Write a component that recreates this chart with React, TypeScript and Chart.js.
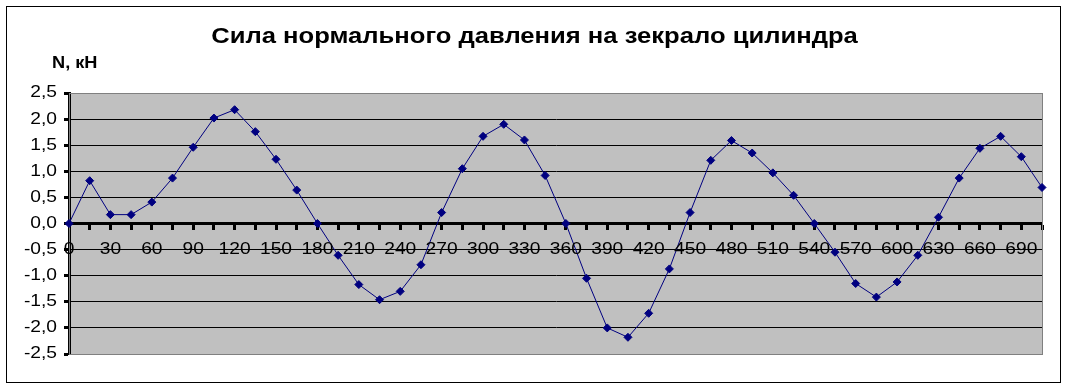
import React, { useEffect, useRef } from "react";
import { Chart, registerables } from "chart.js";

Chart.register(...registerables);

// Crank angle, degrees (every 15°)
const angles: number[] = [
  0, 15, 30, 45, 60, 75, 90, 105, 120, 135, 150, 165,
  180, 195, 210, 225, 240, 255, 270, 285, 300, 315, 330, 345,
  360, 375, 390, 405, 420, 435, 450, 465, 480, 495, 510, 525,
  540, 555, 570, 585, 600, 615, 630, 645, 660, 675, 690, 705,
];

// Normal force on the cylinder wall, kN
const normalForce: number[] = [
  0, 0.82, 0.17, 0.17, 0.41, 0.87, 1.46, 2.02, 2.18, 1.76, 1.23, 0.64,
  0, -0.61, -1.17, -1.46, -1.30, -0.79, 0.21, 1.05, 1.67, 1.90, 1.60, 0.92,
  0, -1.05, -2.0, -2.18, -1.72, -0.87, 0.21, 1.21, 1.59, 1.35, 0.97, 0.54,
  0, -0.55, -1.15, -1.41, -1.12, -0.61, 0.12, 0.87, 1.44, 1.67, 1.28, 0.69,
];

// Labelled angle ticks (every 30°) and value ticks
const angleLabels: number[] = [
  0, 30, 60, 90, 120, 150, 180, 210, 240, 270, 300, 330,
  360, 390, 420, 450, 480, 510, 540, 570, 600, 630, 660, 690,
];
const forceTicks: number[] = [2.5, 2.0, 1.5, 1.0, 0.5, 0, -0.5, -1.0, -1.5, -2.0, -2.5];

const titleText = "Сила нормального давления на зекрало цилиндра";
const yAxisCaption = "N, кН";

const FONT = "'Liberation Sans', Arial, sans-serif";
const LABEL_STRETCH = 1.2;

const fmt = (v: number) => v.toFixed(1).replace(".", ",");

const plotBackground = {
  id: "plotBackground",
  beforeDraw(chart: Chart) {
    const { ctx, chartArea } = chart;
    ctx.save();
    ctx.fillStyle = "#c0c0c0";
    ctx.fillRect(chartArea.left, chartArea.top, chartArea.right - chartArea.left, chartArea.bottom - chartArea.top);
    ctx.restore();
  },
  beforeDatasetsDraw(chart: Chart) {
    const { ctx, chartArea } = chart;
    ctx.save();
    ctx.strokeStyle = "#808080";
    ctx.lineWidth = 1;
    ctx.strokeRect(chartArea.left + 0.5, chartArea.top + 0.5, chartArea.right - chartArea.left, chartArea.bottom - chartArea.top);
    ctx.restore();
  },
};

// Tick labels drawn with a slightly wide typeface look
const wideTickLabels = {
  id: "wideTickLabels",
  afterDraw(chart: Chart) {
    const { ctx } = chart;
    const xs = chart.scales.x;
    const ys = chart.scales.y;
    ctx.save();
    ctx.fillStyle = "#000";
    ctx.font = `16px ${FONT}`;
    ctx.textBaseline = "middle";

    const axisY = ys.getPixelForValue(0);
    ctx.textAlign = "center";
    angleLabels.forEach((a) => {
      ctx.save();
      ctx.translate(xs.getPixelForValue(a), axisY + 26);
      ctx.scale(LABEL_STRETCH, 1);
      ctx.fillText(String(a), 0, 0);
      ctx.restore();
    });

    ctx.textAlign = "right";
    forceTicks.forEach((v) => {
      ctx.save();
      ctx.translate(ys.left + ys.width - 12, ys.getPixelForValue(v));
      ctx.scale(LABEL_STRETCH, 1);
      ctx.fillText(fmt(v), 0, 0);
      ctx.restore();
    });
    ctx.restore();
  },
};

export default function App() {
  const canvasRef = useRef<HTMLCanvasElement | null>(null);

  useEffect(() => {
    if (!canvasRef.current) return;
    const chart = new Chart(canvasRef.current, {
      type: "line",
      data: {
        datasets: [
          {
            data: angles.map((a, i) => ({ x: a, y: normalForce[i] })),
            borderColor: "#000080",
            borderWidth: 1,
            pointStyle: "rectRot",
            pointRadius: 4,
            pointBackgroundColor: "#000080",
            pointBorderColor: "#000080",
            pointBorderWidth: 1,
            tension: 0,
            clip: false as any,
          },
        ],
      },
      options: {
        animation: false,
        responsive: false,
        maintainAspectRatio: false,
        layout: { padding: { top: 93, left: 0, right: 25, bottom: 35 } },
        plugins: {
          legend: { display: false },
          title: { display: false },
          tooltip: { enabled: false },
        },
        scales: {
          x: {
            type: "linear",
            position: { y: 0 } as any,
            min: 0,
            max: 705,
            border: { color: "#000", width: 3 },
            grid: {
              drawOnChartArea: false,
              drawTicks: true,
              tickLength: 5,
              tickWidth: 3,
              tickColor: "#000",
            },
            ticks: {
              stepSize: 15,
              autoSkip: false,
              display: false,
            },
          },
          y: {
            min: -2.5,
            max: 2.5,
            border: { color: "#000", width: 3 },
            grid: {
              color: (ctx: any) =>
                ctx.tick && Math.abs(Math.abs(ctx.tick.value) - 2.5) < 1e-6 ? "#808080" : "#000",
              lineWidth: 1,
              drawTicks: true,
              tickLength: 5,
              tickWidth: 3,
              tickColor: "#000",
            },
            ticks: {
              stepSize: 0.5,
              display: false,
            },
            afterFit: (scale: any) => {
              scale.width = 69;
            },
          },
        },
      },
      plugins: [plotBackground, wideTickLabels],
    });
    return () => chart.destroy();
  }, []);

  return (
    <div style={{ position: "absolute", left: 0, top: 0, width: 1067, height: 389, background: "#fff", overflow: "hidden" }}>
      <div
        style={{
          position: "absolute",
          left: 6,
          top: 6,
          width: 1053,
          height: 375,
          border: "1px solid #000",
        }}
      />
      <canvas ref={canvasRef} width={1067} height={389} style={{ position: "absolute", left: 0, top: 0 }} />
      <div
        style={{
          position: "absolute",
          left: 0,
          width: 1069,
          top: 23,
          textAlign: "center",
          fontFamily: FONT,
          fontWeight: "bold",
          fontSize: 22,
          lineHeight: "26px",
          color: "#000",
          transform: "scaleX(1.164)",
          transformOrigin: "center",
          whiteSpace: "nowrap",
        }}
      >
        {titleText}
      </div>
      <div
        style={{
          position: "absolute",
          left: 52,
          top: 53,
          fontFamily: FONT,
          fontWeight: "bold",
          fontSize: 17,
          lineHeight: "20px",
          color: "#000",
          transform: "scaleX(1.07)",
          transformOrigin: "left",
          whiteSpace: "nowrap",
        }}
      >
        {yAxisCaption}
      </div>
    </div>
  );
}
